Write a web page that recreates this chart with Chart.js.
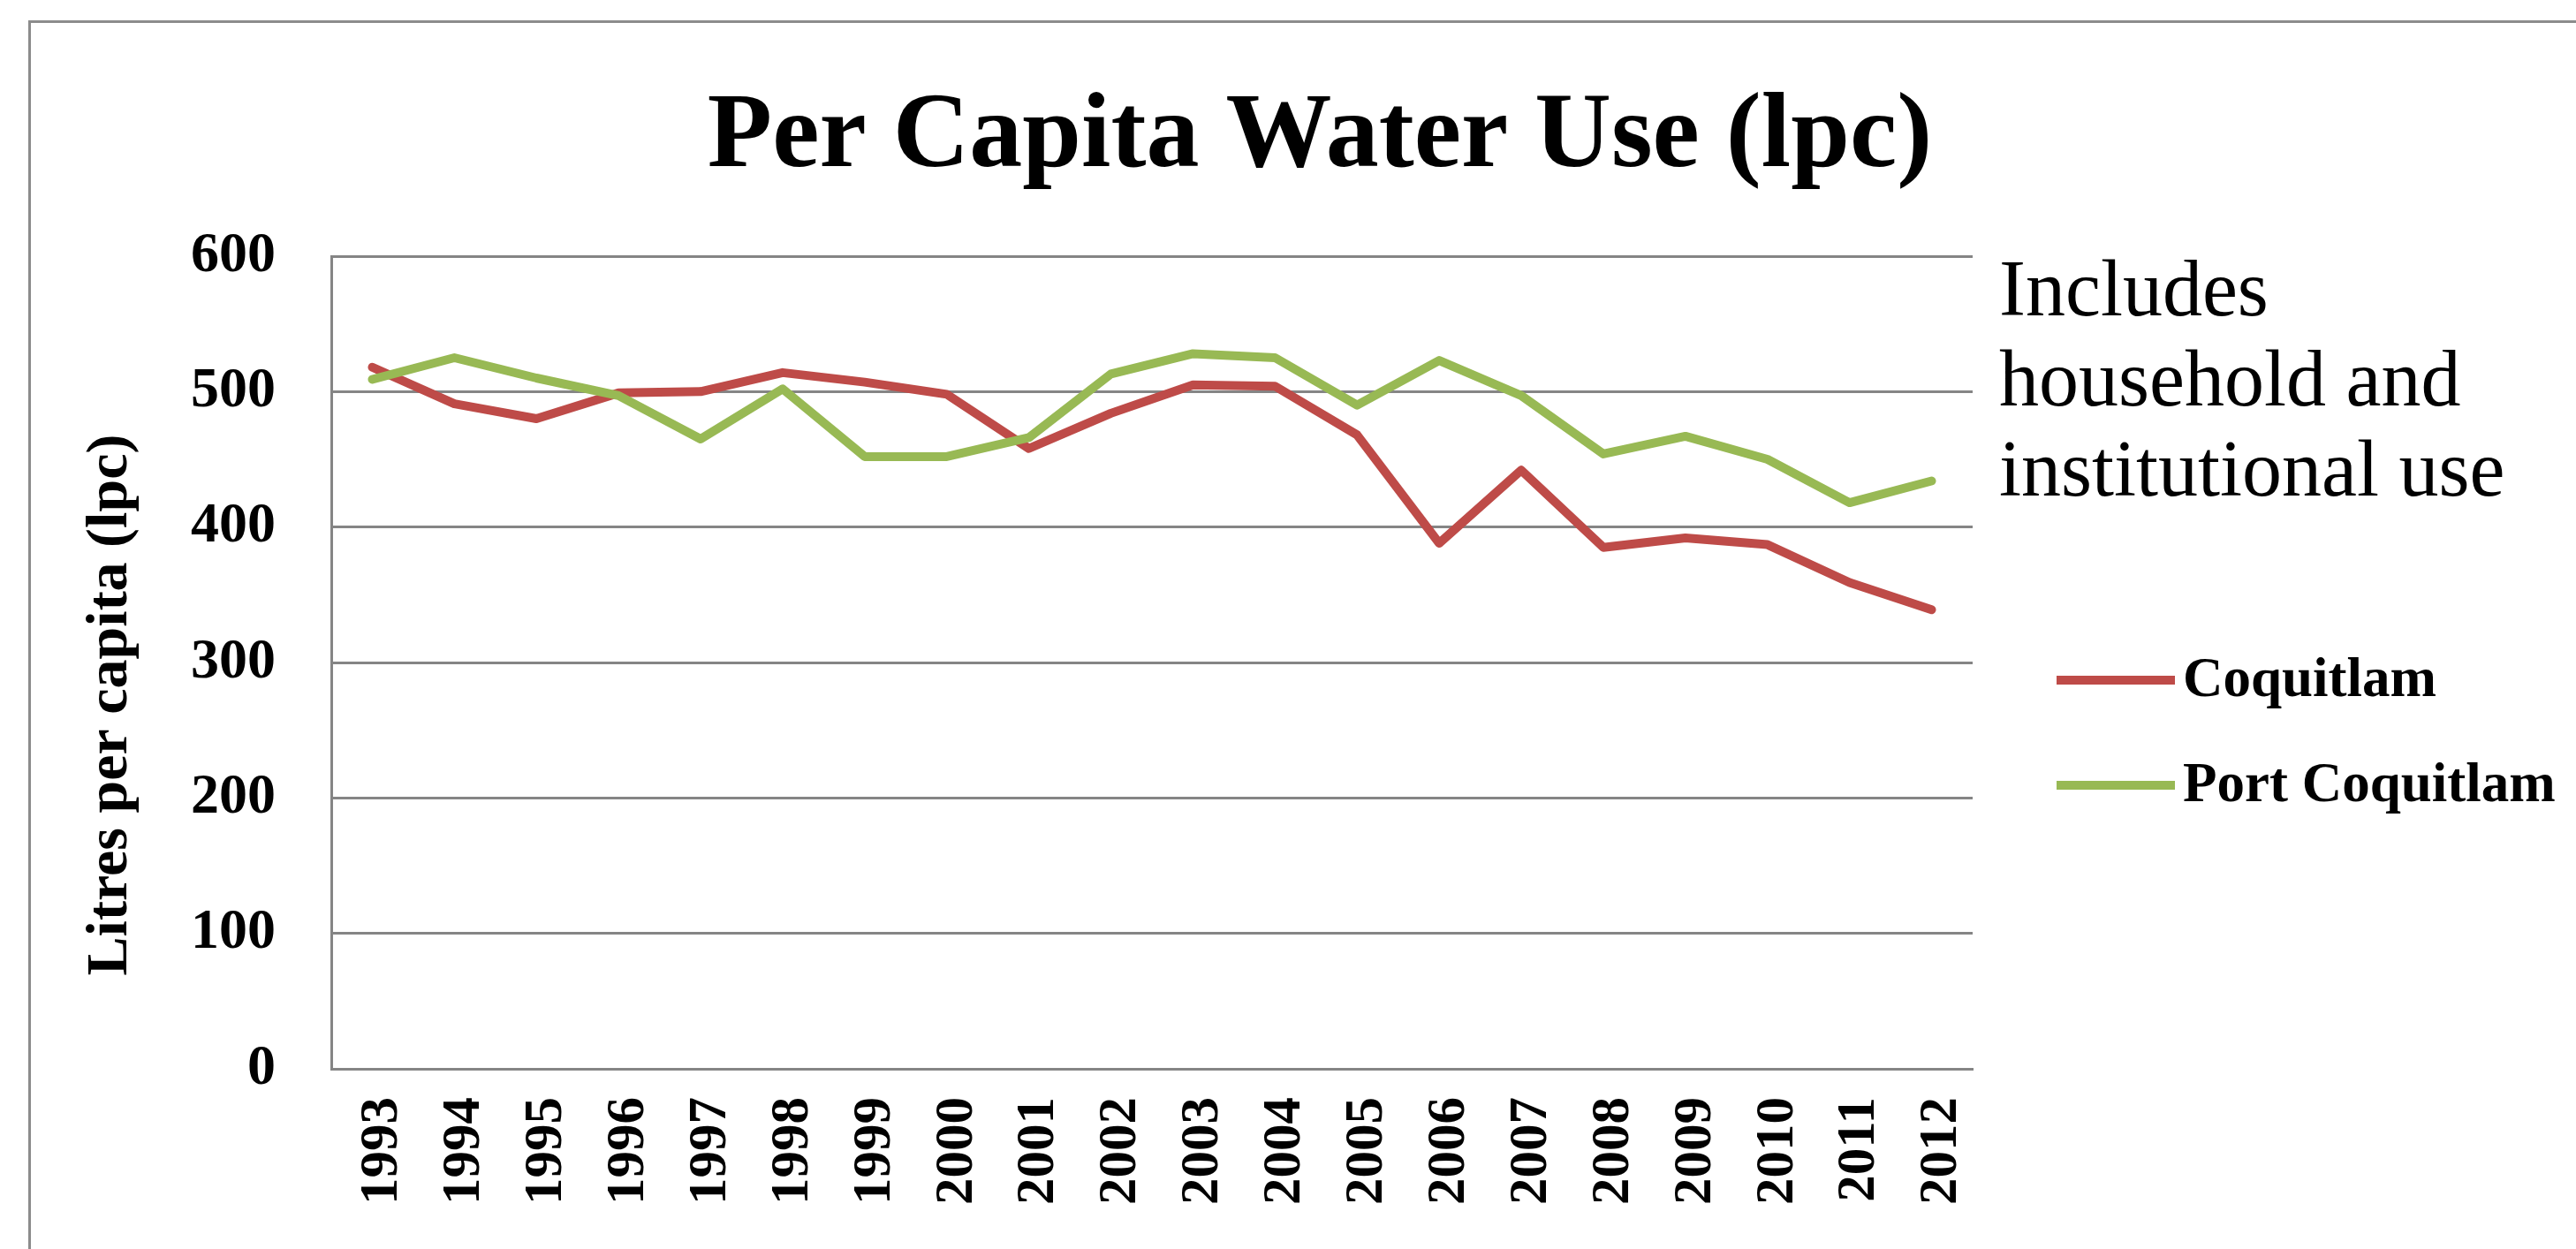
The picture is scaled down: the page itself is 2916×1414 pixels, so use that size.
<!DOCTYPE html>
<html>
<head>
<meta charset="utf-8">
<title>Per Capita Water Use (lpc)</title>
<script src="https://cdn.jsdelivr.net/npm/chart.js@4.4.1/dist/chart.umd.min.js"></script>
<style>
  html, body { margin: 0; padding: 0; background: #ffffff; }
  #wrap { position: relative; width: 2916px; height: 1414px; }
  canvas { display: block; }
</style>
</head>
<body>
<div id="wrap"><canvas id="chart" width="2916" height="1414"></canvas></div>
<script>
// Years on the category axis
const years = ['1993','1994','1995','1996','1997','1998','1999','2000','2001','2002',
               '2003','2004','2005','2006','2007','2008','2009','2010','2011','2012'];

// Litres per capita per day
const coquitlam     = [518, 491, 480, 499, 500, 514, 507, 498, 458, 484,
                       505, 504, 468, 388, 442, 385, 392, 387, 359, 339];
const portCoquitlam = [509, 525, 510, 497, 465, 502, 452, 452, 466, 513,
                       528, 525, 490, 523, 497, 454, 467, 450, 418, 434];

// Value axis ticks
const yTicks = [0, 100, 200, 300, 400, 500, 600];

const seriesNames = ['Coquitlam', 'Port Coquitlam'];
const seriesColors = ['#BE4B48', '#98B954'];

const chartTitle = 'Per Capita Water Use (lpc)';
const yAxisTitle = 'Litres per capita (lpc)';
const noteLines = ['Includes', 'household and', 'institutional use'];

const SERIF = '"Liberation Serif", "Times New Roman", serif';
const GRID = '#858585';

// Frame, heading, axis title, note and legend drawn around the plot
const decorations = {
  id: 'decorations',
  beforeDraw(chart) {
    const ctx = chart.ctx;
    ctx.save();
    ctx.fillStyle = '#ffffff';
    ctx.fillRect(0, 0, chart.width, chart.height);
    ctx.strokeStyle = '#8c8c8c';
    ctx.lineWidth = 3;
    ctx.strokeRect(33.5, 24.5, chart.width + 20, chart.height + 20);
    ctx.restore();
  },
  afterDraw(chart) {
    const ctx = chart.ctx;
    ctx.save();
    ctx.fillStyle = '#000000';

    // heading
    ctx.font = 'bold 120px ' + SERIF;
    ctx.textAlign = 'center';
    ctx.textBaseline = 'alphabetic';
    ctx.fillText(chartTitle, 1494, 188);

    // value axis title, rotated
    ctx.save();
    ctx.translate(143, 798);
    ctx.rotate(-Math.PI / 2);
    ctx.font = 'bold 66px ' + SERIF;
    ctx.textAlign = 'center';
    ctx.fillText(yAxisTitle, 0, 0);
    ctx.restore();

    // note on the right
    ctx.font = '90px ' + SERIF;
    ctx.textAlign = 'left';
    noteLines.forEach((line, i) => ctx.fillText(line, 2263, 357 + i * 102));

    // legend
    ctx.font = 'bold 63px ' + SERIF;
    ctx.textBaseline = 'middle';
    seriesNames.forEach((name, i) => {
      const y = 770 + i * 119;
      ctx.strokeStyle = seriesColors[i];
      ctx.lineWidth = 10;
      ctx.lineCap = 'butt';
      ctx.beginPath();
      ctx.moveTo(2328, y);
      ctx.lineTo(2462, y);
      ctx.stroke();
      ctx.fillStyle = '#000000';
      ctx.fillText(name, 2471, y + 2);
    });
    ctx.restore();
  }
};

new Chart(document.getElementById('chart'), {
  type: 'line',
  data: {
    labels: years,
    datasets: [
      {
        label: seriesNames[0],
        data: coquitlam,
        borderColor: seriesColors[0],
        backgroundColor: seriesColors[0],
        borderWidth: 10,
        borderJoinStyle: 'round',
        borderCapStyle: 'round',
        pointRadius: 0,
        tension: 0,
        fill: false,
        order: 1
      },
      {
        label: seriesNames[1],
        data: portCoquitlam,
        borderColor: seriesColors[1],
        backgroundColor: seriesColors[1],
        borderWidth: 10,
        borderJoinStyle: 'round',
        borderCapStyle: 'round',
        pointRadius: 0,
        tension: 0,
        fill: false,
        order: 0
      }
    ]
  },
  options: {
    responsive: false,
    animation: false,
    events: [],
    layout: { padding: { left: 0, top: 290, right: 683, bottom: 0 } },
    plugins: {
      legend: { display: false },
      title: { display: false },
      tooltip: { enabled: false }
    },
    scales: {
      x: {
        type: 'category',
        offset: true,
        grid: { display: false, drawTicks: false },
        border: { display: true, color: GRID, width: 3 },
        ticks: {
          color: '#000000',
          font: { family: SERIF, size: 61, weight: 'bold' },
          minRotation: 90,
          maxRotation: 90,
          autoSkip: false,
          padding: 32,
          labelOffset: 12
        },
        afterFit(scale) { scale.height = 204; }
      },
      y: {
        min: 0,
        max: 600,
        afterBuildTicks(scale) { scale.ticks = yTicks.map(v => ({ value: v })); },
        grid: { color: GRID, lineWidth: 3, drawTicks: false },
        border: { display: true, color: GRID, width: 3 },
        ticks: {
          color: '#000000',
          font: { family: SERIF, size: 64, weight: 'bold' },
          padding: 63
        },
        afterFit(scale) { scale.width = 375; }
      }
    }
  },
  plugins: [decorations]
});
</script>
</body>
</html>
